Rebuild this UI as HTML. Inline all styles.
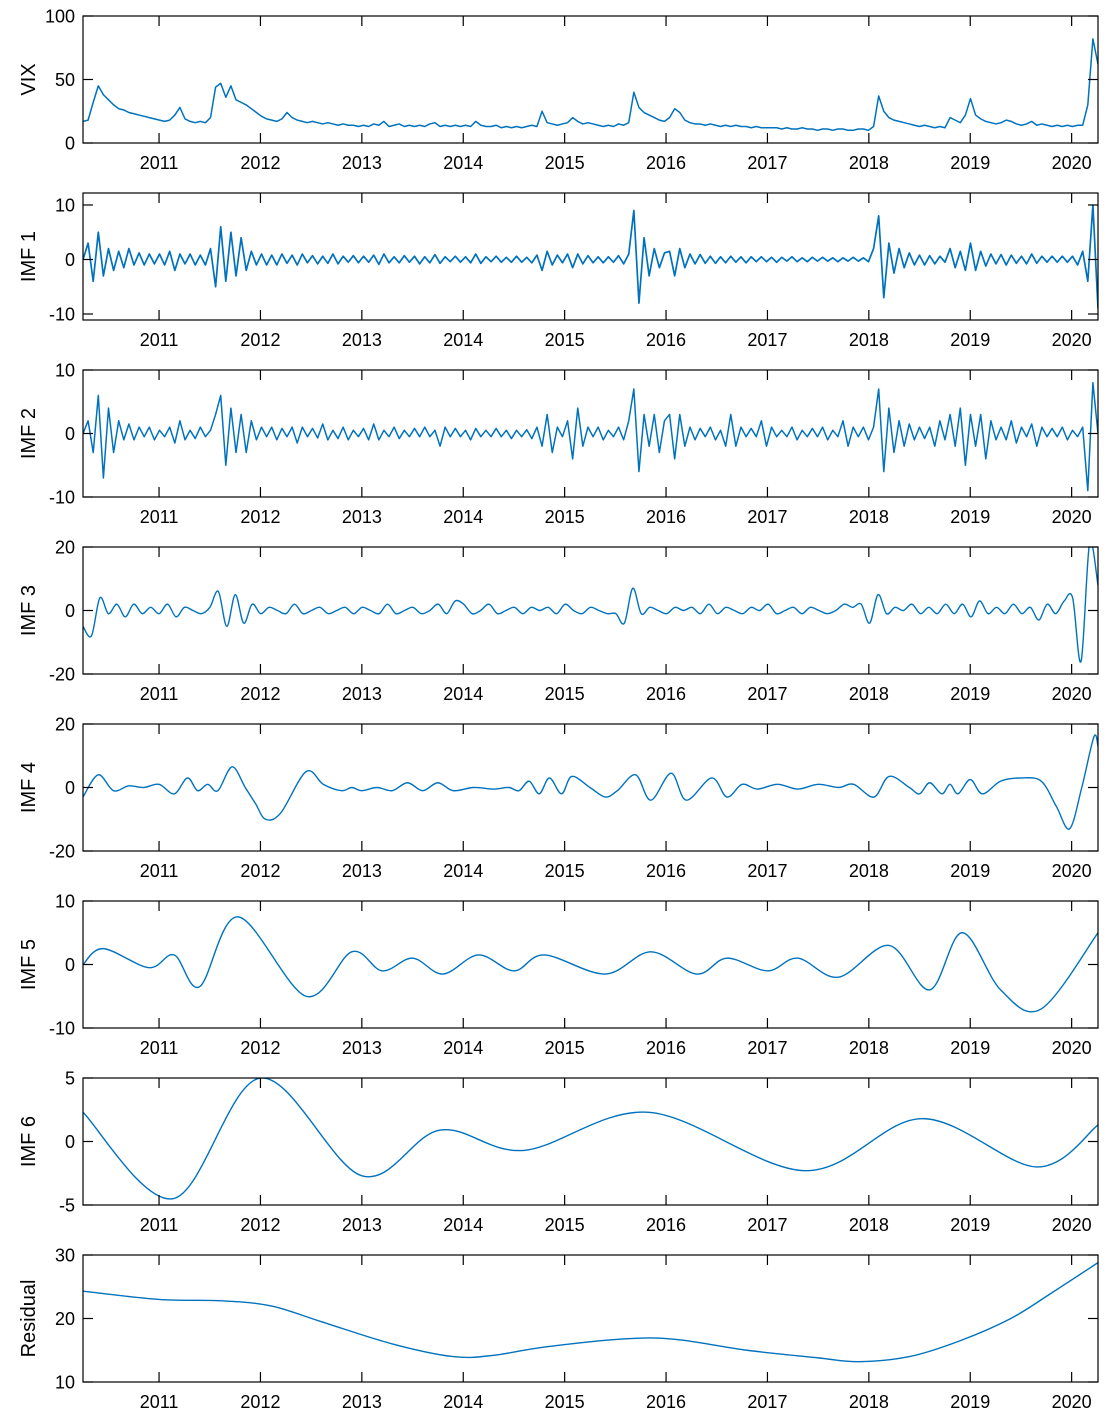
<!DOCTYPE html>
<html><head><meta charset="utf-8"><style>
html,body{margin:0;padding:0;background:#fff;}
svg{display:block;font-family:"Liberation Sans",Arial,sans-serif;}
</style></head><body>
<svg id="chart" width="1114" height="1426" viewBox="0 0 1114 1426"></svg>
<script>
const years = [2011,2012,2013,2014,2015,2016,2017,2018,2019,2020];
const tStart = 2010.25, tEnd = 2020.26;
const vixValues = [17,18,32,45,38,34,30,27,26,24,23,22,21,20,19,
18,17,18,22,28,19,17,16,17,16,20,44,47,36,45,34,32,30,27,24,
21,19,18,17,19,24,20,18,17,16,17,16,15,16,15,14,15,14,14,13,
14,13,15,14,17,13,14,15,13,14,13,14,13,15,16,13,14,13,14,13,
14,13,17,14,13,13,14,12,13,12,13,12,13,14,13,25,16,15,14,15,
16,20,17,15,16,15,14,13,14,13,15,14,16,40,28,24,22,20,18,17,
20,27,24,18,16,15,15,14,15,14,13,14,13,14,13,13,12,13,12,12,
12,12,11,12,11,11,12,11,11,10,11,11,10,11,11,10,10,11,11,10,
13,37,25,20,18,17,16,15,14,13,14,13,12,13,12,20,18,16,22,35,
22,19,17,16,15,16,18,17,15,14,15,17,14,15,14,13,14,13,14,13,
14,14,30,82,62];
const imf1Values = [0,3,-4,5,-3,2,-2,1.5,-1.5,2,-1,1.2,-1,1,-0.8,
1,-1,1.5,-2,1,-0.8,1,-1,0.8,-1,2,-5,6,-4,5,-3,4,-2,1.5,-1,
1,-1,0.8,-1,1,-0.7,0.8,-1,1,-0.6,0.7,-0.8,0.6,-0.7,1,-0.8,0.6,-0.5,0.7,-0.6,
0.6,-0.5,0.8,-0.9,1,-0.6,0.5,-0.6,0.7,-0.5,0.6,-0.8,0.5,-0.6,0.9,-0.7,0.5,-0.4,0.6,-0.5,
0.5,-0.6,1,-0.7,0.5,-0.4,0.6,-0.5,0.4,-0.5,0.6,-0.5,0.4,-0.6,0.8,-2,1.5,-1,0.8,-0.6,
1,-1.5,1,-0.8,0.7,-0.6,0.5,-0.6,0.5,-0.5,0.7,-0.8,1,9,-8,4,-3,2,-1.5,1.2,
1.5,-3,2,-1.5,1,-0.8,0.9,-0.7,0.6,-0.7,0.5,-0.6,0.6,-0.5,0.5,-0.6,0.5,-0.4,0.5,-0.4,
0.4,-0.5,0.4,-0.3,0.5,-0.4,0.3,-0.4,0.4,-0.3,0.4,-0.3,0.3,-0.4,0.3,-0.3,0.4,-0.3,0.3,-0.4,
2,8,-7,3,-2.5,2,-1.5,1.2,-1,0.8,-1,0.7,-0.8,0.6,-0.5,2,-1.5,1.5,-2,3,
-2,1.5,-1.2,1,-0.8,0.9,-1,0.8,-0.7,0.6,-0.8,1,-0.7,0.6,-0.5,0.6,-0.5,0.6,-0.5,0.6,
-1,1.5,-4,10,-9];
const imf2Values = [0,2,-3,6,-7,4,-3,2,-1,1.5,-1,1,-0.5,1,-1,
0.5,-0.5,1,-1.5,2,-1,0.5,-0.8,1,-0.5,0.5,3,6,-5,4,-3,3,-3,2,-1,
1,-0.5,1,-1,0.8,-0.5,1,-1.5,1,-0.5,0.8,-0.7,1.5,-1,0.5,-0.8,1,-1,0.5,-0.5,
0.8,-1,1.5,-1,0.5,-0.5,1,-0.8,0.5,-0.5,0.8,-0.5,1,-0.5,0.5,-2,1,-0.5,0.8,-0.5,
0.5,-1,0.8,-0.5,0.5,-0.5,0.8,-0.5,0.5,-0.8,0.5,-0.5,0.6,-0.8,1,-2,3,-3,1,-0.5,
2,-4,4,-2,1,-0.5,1,-1,0.5,-0.5,1,-1,2,7,-6,3,-2,3,-3,2,
3,-4,3,-2,1,-1,0.8,-0.5,1,-1,0.5,-2,3,-2,1,-0.5,0.8,-0.5,2,-2,
1,-0.5,0.5,-0.5,1,-1,0.5,-0.5,0.8,-0.5,1,-1,0.5,-0.5,2,-2,1,-0.5,1,-1,
1,7,-6,4,-3,2,-2,1.5,-1,1,-0.8,1,-2,2,-1,3,-2,4,-5,3,
-2,3,-4,2,-1,1,-1,2,-1.5,1,-0.5,1.5,-2,1,-0.5,0.8,-0.5,1,-1,0.5,
-0.5,1,-9,8,0];
const imf3Values = [-5,-8,4,-1,2,-2,2,-1,
1,-1,2,-2,1,0,-1,1,6,-5,5,-4,
2,-1,1,0,-1,2,-1,0,1,-1,0,1,
-1,1,0,-1,2,-1,0,1,-1,0,2,-1,
3,2,-1,0,2,-1,0,1,-1,1,0,1,
-1,2,0,-1,1,0,-1,-1,-4,7,-1,1,
0,-1,1,0,1,-1,2,-1,1,0,-1,1,
0,2,-1,0,1,-1,1,0,-1,0,2,1,
2,-4,5,-1,1,0,2,-1,1,-1,2,-1,
2,-2,3,-1,1,-1,2,-1,1,-3,2,-1,
3,4,-16,21,8];
const imf4Times = [2010.25,2010.4,2010.55,2010.7,2010.85,2011.0,2011.15,2011.28,2011.38,2011.48,2011.58,2011.72,2011.85,2011.95,2012.05,2012.2,2012.45,2012.62,2012.8,2012.9,2013.0,2013.15,2013.3,2013.45,2013.6,2013.75,2013.9,2014.1,2014.3,2014.45,2014.55,2014.65,2014.75,2014.85,2014.97,2015.07,2015.25,2015.4,2015.52,2015.7,2015.85,2016.05,2016.2,2016.45,2016.6,2016.75,2016.9,2017.1,2017.3,2017.5,2017.7,2017.85,2018.05,2018.2,2018.4,2018.5,2018.6,2018.72,2018.8,2018.88,2019.0,2019.12,2019.3,2019.5,2019.7,2019.85,2019.98,2020.1,2020.22,2020.26];
const imf4Values = [-3,4,-1,0.5,0,1,-2,3,-1,1,-1,6.5,0,-5,-10,-8,5,1,-1,0,-1,0,-1,1.5,-1,1.5,-1,0,-0.5,0,-1,2,-2,3,-2,3.5,0,-3,-1,4,-4,4.5,-4,3,-3,1,-0.5,1,-0.5,1,0,1,-3,3.5,0,-2,1.5,-2,1,-2,2.5,-2,2,3,2,-6,-13,0,16,13];
const imf5Times = [2010.25,2010.45,2010.9,2011.15,2011.4,2011.78,2012.45,2012.9,2013.2,2013.5,2013.8,2014.15,2014.5,2014.8,2015.4,2015.85,2016.3,2016.6,2017.0,2017.3,2017.7,2018.2,2018.6,2018.92,2019.3,2019.7,2020.26];
const imf5Values = [0,2.5,-0.5,1.5,-3.5,7.5,-5,2,-1,1,-1.5,1.5,-1,1.5,-1.5,2,-1.5,1,-1,1,-2,3,-4,5,-4,-7,5];
const imf6Times = [2010.25,2011.14,2012.0,2013.0,2013.77,2014.6,2015.83,2017.37,2018.52,2019.65,2020.26];
const imf6Values = [2.3,-4.5,5,-2.7,0.9,-0.7,2.3,-2.3,1.8,-2,1.3];
const resTimes = [2010.25,2011.0,2011.6,2012.1,2012.6,2013.3,2013.9,2014.3,2014.8,2015.6,2016.1,2016.8,2017.5,2017.9,2018.4,2018.9,2019.4,2019.8,2020.26];
const resValues = [24.3,23,22.8,22,19.5,16,14,14.2,15.5,16.8,16.7,15,13.8,13.2,14,16.5,20,24,28.8];

const svg = document.getElementById('chart');
const NS = 'http://www.w3.org/2000/svg';
const L = 83, R = 1098, H = 127;
function xScale(t){ return L + (t - tStart) / (tEnd - tStart) * (R - L); }
function mk(tag, attrs, parent){ const e = document.createElementNS(NS, tag); for (const k in attrs) e.setAttribute(k, attrs[k]); (parent||svg).appendChild(e); return e; }
function uniformTimes(n){ const a=[]; for(let i=0;i<n;i++) a.push(tStart + i*(tEnd-tStart)/(n-1)); return a; }
function linePath(pts){ return pts.map((p,i)=>(i?'L':'M')+p[0].toFixed(2)+' '+p[1].toFixed(2)).join(''); }
function smoothPath(pts){
  let d='M'+pts[0][0]+' '+pts[0][1];
  for(let i=0;i<pts.length-1;i++){
    const p0=pts[Math.max(0,i-1)],p1=pts[i],p2=pts[i+1],p3=pts[Math.min(pts.length-1,i+2)];
    const c1x=p1[0]+(p2[0]-p0[0])/6, c1y=p1[1]+(p2[1]-p0[1])/6;
    const c2x=p2[0]-(p3[0]-p1[0])/6, c2y=p2[1]-(p3[1]-p1[1])/6;
    d+=`C${c1x.toFixed(2)} ${c1y.toFixed(2)} ${c2x.toFixed(2)} ${c2y.toFixed(2)} ${p2[0].toFixed(2)} ${p2[1].toFixed(2)}`;
  }
  return d;
}
const panels = [
  {name:'vix', label:'VIX', top:16, ymin:0, ymax:100, ticks:[0,50,100], times:uniformTimes(vixValues.length), values:vixValues, smooth:false, sw:1.5},
  {name:'imf1', label:'IMF 1', top:193, ymin:-11.1, ymax:12.2, ticks:[-10,0,10], times:uniformTimes(imf1Values.length), values:imf1Values, smooth:false, sw:1.7},
  {name:'imf2', label:'IMF 2', top:370, ymin:-10, ymax:10, ticks:[-10,0,10], times:uniformTimes(imf2Values.length), values:imf2Values, smooth:false, sw:1.5},
  {name:'imf3', label:'IMF 3', top:547, ymin:-20, ymax:20, ticks:[-20,0,20], times:uniformTimes(imf3Values.length), values:imf3Values, smooth:true, sw:1.4},
  {name:'imf4', label:'IMF 4', top:724, ymin:-20, ymax:20, ticks:[-20,0,20], times:imf4Times, values:imf4Values, smooth:true, sw:1.4},
  {name:'imf5', label:'IMF 5', top:901, ymin:-10, ymax:10, ticks:[-10,0,10], times:imf5Times, values:imf5Values, smooth:true, sw:1.4},
  {name:'imf6', label:'IMF 6', top:1078, ymin:-5, ymax:5, ticks:[-5,0,5], times:imf6Times, values:imf6Values, smooth:true, sw:1.4},
  {name:'residual', label:'Residual', top:1255, ymin:10, ymax:30, ticks:[10,20,30], times:resTimes, values:resValues, smooth:true, sw:1.4}
];
panels.forEach(p=>{
  const g = mk('g',{});
  
  
  const top=p.top, bot=p.top+H;
  const yScale = v => bot - (v - p.ymin)/(p.ymax - p.ymin)*H;
  const clipId='clip-'+p.name;
  const cp = mk('clipPath',{id:clipId},g); mk('rect',{x:L,y:top,width:R-L,height:H},cp);
  const pts = p.times.map((t,i)=>[xScale(t), yScale(p.values[i])]);
  const line = mk('path',{d:p.smooth?smoothPath(pts):linePath(pts), fill:'none', stroke:'#0072BD','stroke-width':p.sw,'stroke-linejoin':'round','clip-path':`url(#${clipId})`},g);
  
  
  const box = mk('rect',{x:L,y:top,width:R-L,height:H,fill:'none',stroke:'#000','stroke-width':1.2},g);
  
  
  years.forEach(yr=>{
    const x=xScale(yr);
    mk('line',{x1:x,x2:x,y1:bot,y2:bot-10,stroke:'#000','stroke-width':1.2},g);
    mk('line',{x1:x,x2:x,y1:top,y2:top+10,stroke:'#000','stroke-width':1.2},g);
    const tx = mk('text',{x:x,y:bot+26,'text-anchor':'middle','font-size':18,fill:'#000'},g);
    tx.textContent = yr;
    
    
  });
  p.ticks.forEach(v=>{
    const y=yScale(v);
    mk('line',{x1:L,x2:L+10,y1:y,y2:y,stroke:'#000','stroke-width':1.2},g);
    mk('line',{x1:R,x2:R-10,y1:y,y2:y,stroke:'#000','stroke-width':1.2},g);
    const tx = mk('text',{x:75,y:y+6.5,'text-anchor':'end','font-size':18,fill:'#000'},g);
    tx.textContent = v;
    
    
  });
  const cy = top + H/2;
  const yl = mk('text',{x:0,y:0,'text-anchor':'middle','font-size':20,fill:'#000',transform:`translate(35 ${cy}) rotate(-90)`},g);
  yl.textContent = p.label;
  
  
});
</script>
</body></html>
